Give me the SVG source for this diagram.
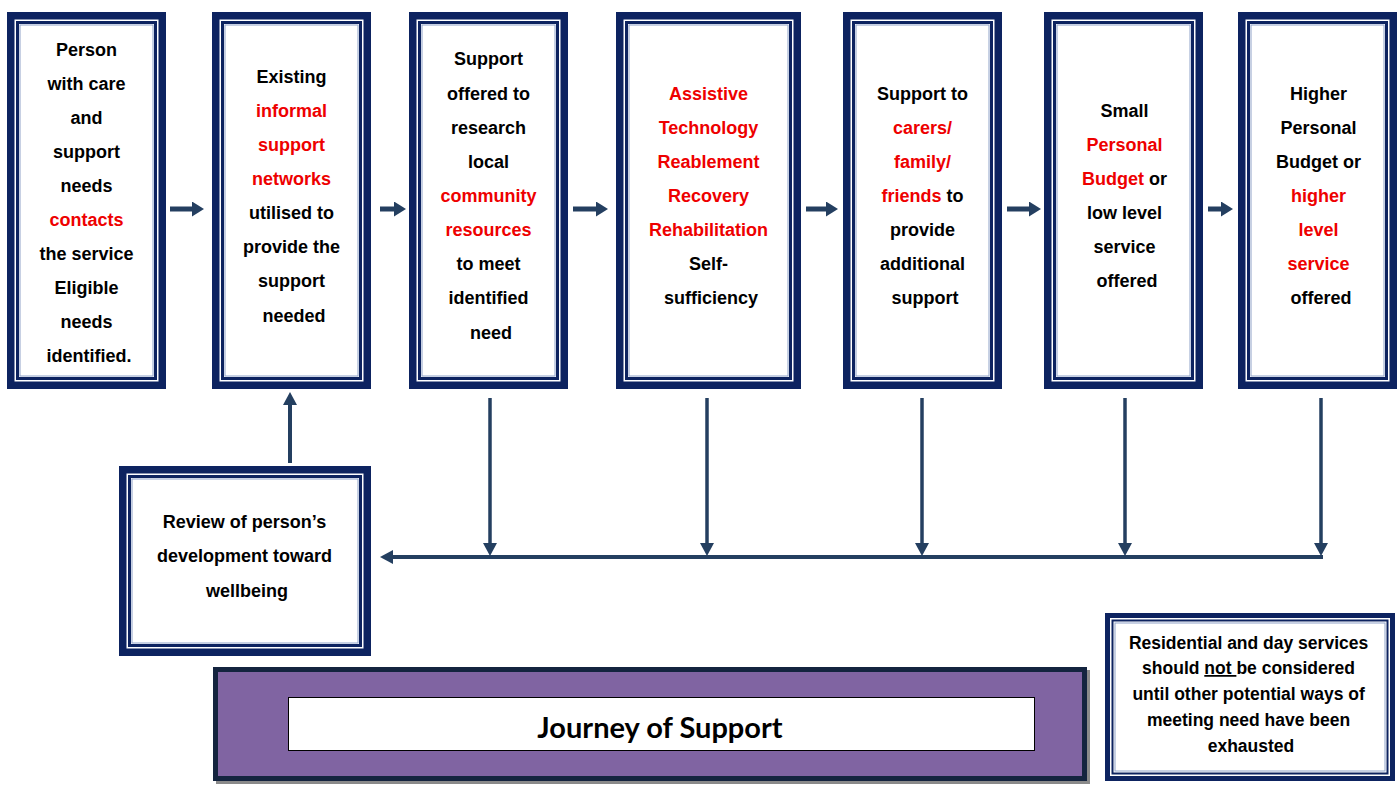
<svg xmlns="http://www.w3.org/2000/svg" width="1400" height="792" viewBox="0 0 1400 792">
  <defs>
    <style>
      .outer { fill: #0d2360; }
      .gap { fill: #ffffff; }
      .inner { fill: none; stroke: #0d2360; stroke-width: 3; }
      .hair { fill: none; stroke: #8fa2c8; stroke-width: 1; }
      .lbl { font-family: "Liberation Sans", Arial, sans-serif; font-weight: bold; font-size: 18px; fill: #000; text-anchor: middle; }
      .note { font-family: "Liberation Sans", Arial, sans-serif; font-weight: bold; font-size: 17.5px; fill: #000; text-anchor: middle; }
      .red { fill: #ee0000; }
      .conn { stroke: #243f60; fill: none; }
      .h { stroke-width: 5; }
      .v { stroke-width: 3.5; }
      .title { font-family: Lato, "Open Sans", sans-serif; font-weight: bold; font-size: 29px; fill: #000; text-anchor: middle; }
    </style>
    <marker id="headH" markerUnits="userSpaceOnUse" markerWidth="12" markerHeight="15" refX="0" refY="7.5" orient="auto" viewBox="0 0 12 15">
      <path d="M0,0 L12,7.5 L0,15 z" fill="#243f60"/>
    </marker>
    <marker id="headV" markerUnits="userSpaceOnUse" markerWidth="13" markerHeight="14" refX="0" refY="7" orient="auto" viewBox="0 0 13 14">
      <path d="M0,0 L13,7 L0,14 z" fill="#243f60"/>
    </marker>
  </defs>

  <rect width="1400" height="792" fill="#ffffff"/>

  <!-- step 1 -->
  <g id="step-contact">
    <rect class="outer" x="7" y="12" width="159" height="377"/>
    <rect class="gap" x="14.5" y="19.5" width="144" height="362"/>
    <rect class="inner" x="17.5" y="22.5" width="138" height="356"/>
    <rect class="hair" x="20" y="25" width="133" height="351"/>
    <text class="lbl">
      <tspan x="89" y="56">Person</tspan>
      <tspan x="89" y="90">with care</tspan>
      <tspan x="89" y="124">and</tspan>
      <tspan x="89" y="158">support</tspan>
      <tspan x="89" y="192">needs</tspan>
      <tspan x="89" y="226" class="red">contacts</tspan>
      <tspan x="89" y="260">the service</tspan>
      <tspan x="89" y="294">Eligible</tspan>
      <tspan x="89" y="328">needs</tspan>
      <tspan x="89" y="362">identified.</tspan>
    </text>
  </g>

  <!-- step 2 -->
  <g id="step-informal">
    <rect class="outer" x="212" y="12" width="159" height="377"/>
    <rect class="gap" x="219.5" y="19.5" width="144" height="362"/>
    <rect class="inner" x="222.5" y="22.5" width="138" height="356"/>
    <rect class="hair" x="225" y="25" width="133" height="351"/>
    <text class="lbl">
      <tspan x="294" y="83">Existing</tspan>
      <tspan x="294" y="117" class="red">informal</tspan>
      <tspan x="294" y="151" class="red">support</tspan>
      <tspan x="294" y="185" class="red">networks</tspan>
      <tspan x="294" y="219">utilised to</tspan>
      <tspan x="294" y="253">provide the</tspan>
      <tspan x="294" y="287">support</tspan>
      <tspan x="294" y="322">needed</tspan>
    </text>
  </g>

  <!-- step 3 -->
  <g id="step-community">
    <rect class="outer" x="409" y="12" width="159" height="377"/>
    <rect class="gap" x="416.5" y="19.5" width="144" height="362"/>
    <rect class="inner" x="419.5" y="22.5" width="138" height="356"/>
    <rect class="hair" x="422" y="25" width="133" height="351"/>
    <text class="lbl">
      <tspan x="491" y="65">Support</tspan>
      <tspan x="491" y="100">offered to</tspan>
      <tspan x="491" y="134">research</tspan>
      <tspan x="491" y="168">local</tspan>
      <tspan x="491" y="202" class="red">community</tspan>
      <tspan x="491" y="236" class="red">resources</tspan>
      <tspan x="491" y="270">to meet</tspan>
      <tspan x="491" y="304">identified</tspan>
      <tspan x="491" y="339">need</tspan>
    </text>
  </g>

  <!-- step 4 -->
  <g id="step-reablement">
    <rect class="outer" x="616" y="12" width="185" height="377"/>
    <rect class="gap" x="623.5" y="19.5" width="170" height="362"/>
    <rect class="inner" x="626.5" y="22.5" width="164" height="356"/>
    <rect class="hair" x="629" y="25" width="159" height="351"/>
    <text class="lbl">
      <tspan x="711" y="100" class="red">Assistive</tspan>
      <tspan x="711" y="134" class="red">Technology</tspan>
      <tspan x="711" y="168" class="red">Reablement</tspan>
      <tspan x="711" y="202" class="red">Recovery</tspan>
      <tspan x="711" y="236" class="red">Rehabilitation</tspan>
      <tspan x="711" y="270">Self-</tspan>
      <tspan x="711" y="304">sufficiency</tspan>
    </text>
  </g>

  <!-- step 5 -->
  <g id="step-carers">
    <rect class="outer" x="843" y="12" width="159" height="377"/>
    <rect class="gap" x="850.5" y="19.5" width="144" height="362"/>
    <rect class="inner" x="853.5" y="22.5" width="138" height="356"/>
    <rect class="hair" x="856" y="25" width="133" height="351"/>
    <text class="lbl">
      <tspan x="925" y="100">Support to</tspan>
      <tspan x="925" y="134" class="red">carers/</tspan>
      <tspan x="925" y="168" class="red">family/</tspan>
      <tspan x="925" y="202"><tspan class="red">friends</tspan> to</tspan>
      <tspan x="925" y="236">provide</tspan>
      <tspan x="925" y="270">additional</tspan>
      <tspan x="925" y="304">support</tspan>
    </text>
  </g>

  <!-- step 6 -->
  <g id="step-small-budget">
    <rect class="outer" x="1044" y="12" width="159" height="377"/>
    <rect class="gap" x="1051.5" y="19.5" width="144" height="362"/>
    <rect class="inner" x="1054.5" y="22.5" width="138" height="356"/>
    <rect class="hair" x="1057" y="25" width="133" height="351"/>
    <text class="lbl">
      <tspan x="1127" y="117">Small</tspan>
      <tspan x="1127" y="151" class="red">Personal</tspan>
      <tspan x="1127" y="185"><tspan class="red">Budget</tspan> or</tspan>
      <tspan x="1127" y="219">low level</tspan>
      <tspan x="1127" y="253">service</tspan>
      <tspan x="1127" y="287">offered</tspan>
    </text>
  </g>

  <!-- step 7 -->
  <g id="step-higher-budget">
    <rect class="outer" x="1238" y="12" width="159" height="377"/>
    <rect class="gap" x="1245.5" y="19.5" width="144" height="362"/>
    <rect class="inner" x="1248.5" y="22.5" width="138" height="356"/>
    <rect class="hair" x="1251" y="25" width="133" height="351"/>
    <text class="lbl">
      <tspan x="1321" y="100">Higher</tspan>
      <tspan x="1321" y="134">Personal</tspan>
      <tspan x="1321" y="168">Budget or</tspan>
      <tspan x="1321" y="202" class="red">higher</tspan>
      <tspan x="1321" y="236" class="red">level</tspan>
      <tspan x="1321" y="270" class="red">service</tspan>
      <tspan x="1321" y="304">offered</tspan>
    </text>
  </g>

  <!-- review -->
  <g id="review">
    <rect class="outer" x="119" y="466" width="252" height="190"/>
    <rect class="gap" x="126.5" y="473.5" width="237" height="175"/>
    <rect class="inner" x="129.5" y="476.5" width="231" height="169"/>
    <rect class="hair" x="132" y="479" width="226" height="164"/>
    <text class="lbl">
      <tspan x="247" y="528">Review of person’s</tspan>
      <tspan x="247" y="562">development toward</tspan>
      <tspan x="247" y="597">wellbeing</tspan>
    </text>
  </g>

  <!-- note -->
  <g id="note">
    <rect class="outer" x="1105" y="613" width="290" height="168"/>
    <rect class="gap" x="1110" y="618" width="280" height="158"/>
    <rect class="inner" x="1112.5" y="620.5" width="275" height="153" style="stroke-width:2"/>
    <rect class="hair" x="1115" y="623" width="270" height="148"/>
    <text class="note">
      <tspan x="1251" y="649">Residential and day services</tspan>
      <tspan x="1251" y="674">should <tspan text-decoration="underline">not </tspan>be considered</tspan>
      <tspan x="1251" y="700">until other potential ways of</tspan>
      <tspan x="1251" y="726">meeting need have been</tspan>
      <tspan x="1251" y="752">exhausted</tspan>
    </text>
  </g>

  <!-- title banner -->
  <g id="title">
    <rect x="216" y="670" width="874" height="114" fill="#8a8a8a"/>
    <rect x="215.5" y="669.5" width="869" height="109" fill="#8064a2" stroke="#14243f" stroke-width="5"/>
    <rect x="288.5" y="697.5" width="746" height="53" fill="#ffffff" stroke="#000" stroke-width="1"/>
    <text class="title" x="660" y="738">Journey of Support</text>
  </g>

  <!-- connectors -->
  <g id="connectors">
    <line class="conn h" x1="170" y1="209" x2="192" y2="209" marker-end="url(#headH)"/>
    <line class="conn h" x1="380" y1="209" x2="394" y2="209" marker-end="url(#headH)"/>
    <line class="conn h" x1="573" y1="209" x2="596" y2="209" marker-end="url(#headH)"/>
    <line class="conn h" x1="806" y1="209" x2="826" y2="209" marker-end="url(#headH)"/>
    <line class="conn h" x1="1007" y1="209" x2="1029" y2="209" marker-end="url(#headH)"/>
    <line class="conn h" x1="1208" y1="209" x2="1221" y2="209" marker-end="url(#headH)"/>

    <line class="conn v" x1="490" y1="398" x2="490" y2="543" marker-end="url(#headV)"/>
    <line class="conn v" x1="707" y1="398" x2="707" y2="543" marker-end="url(#headV)"/>
    <line class="conn v" x1="922" y1="398" x2="922" y2="543" marker-end="url(#headV)"/>
    <line class="conn v" x1="1125" y1="398" x2="1125" y2="543" marker-end="url(#headV)"/>
    <line class="conn v" x1="1321" y1="398" x2="1321" y2="543" marker-end="url(#headV)"/>

    <line class="conn" stroke-width="4" x1="1323" y1="557" x2="393" y2="557" marker-end="url(#headV)"/>
    <line class="conn" stroke-width="4" x1="290" y1="463" x2="290" y2="405" marker-end="url(#headV)"/>
  </g>
</svg>
